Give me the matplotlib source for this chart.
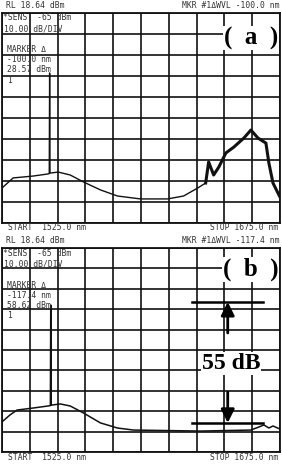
import numpy as np
import matplotlib
matplotlib.use("Agg")
from matplotlib import pyplot as plt

W, H = 282, 465

# spectrum (a): wavelength [nm], level [dBm]
wl_a = [1525.0, 1531.0, 1541.8, 1549.9, 1550.5, 1550.7, 1550.9, 1555.3, 1561.8,
        1568.9, 1578.1, 1587.3, 1599.7, 1614.3, 1623.0, 1630.6, 1634.9]
lv_a = [-64.7, -59.9, -59.0, -58.0, -57.8, -9.9, -57.6, -57.1, -58.5,
        -61.8, -65.6, -68.5, -69.9, -69.9, -68.5, -64.7, -62.3]
# noisy ASE part of (a)
wl_a2 = [1634.9, 1636.5, 1639.2, 1642.0, 1645.8, 1650.1, 1655.5, 1659.3,
         1663.1, 1667.4, 1669.0, 1671.2, 1673.9, 1675.0]
lv_a2 = [-62.3, -52.3, -58.5, -54.7, -48.0, -45.2, -40.9, -37.1,
         -40.9, -43.3, -52.8, -62.3, -67.1, -69.0]

# spectrum (b)
wl_b = [1525.0, 1529.3, 1533.1, 1541.8, 1549.9, 1551.1, 1551.3, 1551.5, 1556.4,
        1561.8, 1568.9, 1578.1, 1587.3, 1595.9, 1632.2, 1659.3, 1663.6,
        1666.3, 1669.0, 1671.2, 1675.0]
lv_b = [-66.6, -63.2, -60.8, -59.8, -58.8, -58.6, -9.3, -58.4, -57.8,
        -58.8, -62.2, -67.1, -69.6, -70.6, -71.1, -70.6, -69.1,
        -68.1, -69.6, -68.6, -70.1]

ref_level = 18.64
start_nm, stop_nm = 1525.0, 1675.0
mkr_a = ["-100.0 nm", "28.57 dBm"]
mkr_b = ["-117.4 nm", "58.62 dBm"]

fig = plt.figure(figsize=(W / 100, H / 100), dpi=100)
ink = "#111111"
txt = "#333333"
mono = "DejaVu Sans Mono"


def px(x, y):
    return x / W, 1 - y / H


def panel(top, bot):
    ax = fig.add_axes([2 / W, 1 - bot / H, 278 / W, (bot - top) / H])
    ax.set_xlim(start_nm, stop_nm)
    ax.set_ylim(ref_level - 100, ref_level)
    ax.set_xticks(np.linspace(start_nm, stop_nm, 11))
    ax.set_yticks(np.linspace(ref_level - 100, ref_level, 11))
    ax.tick_params(length=0, labelbottom=False, labelleft=False)
    ax.grid(color=ink, linewidth=1.2)
    for s in ax.spines.values():
        s.set_linewidth(1.3)
        s.set_color(ink)
    return ax


ax1 = panel(13, 223)
ax1.plot(wl_a, lv_a, color=ink, linewidth=1.0)
ax1.plot(wl_a2, lv_a2, color=ink, linewidth=2.2)
ax1.text(0.895, 0.88, "(  a  )", transform=ax1.transAxes, ha="center", va="center",
         fontsize=18, fontweight="bold", family="Liberation Serif",
         bbox=dict(facecolor="white", edgecolor="none", pad=0.5))

ax2 = panel(248, 452)
ax2.plot(wl_b, lv_b, color=ink, linewidth=1.1)
ax2.text(0.895, 0.895, "(  b  )", transform=ax2.transAxes, ha="center", va="center",
         fontsize=18, fontweight="bold", family="Liberation Serif",
         bbox=dict(facecolor="white", edgecolor="none", pad=0.5))

# 55 dB annotation
hi, lo = -7.8, -67.1
ax2.plot([1627.3, 1665.8], [hi, hi], color="black", linewidth=1.8)
ax2.plot([1627.3, 1665.8], [lo, lo], color="black", linewidth=1.8)
ax2.annotate("", xy=(1646.8, hi), xytext=(1646.8, -23.0),
             arrowprops=dict(arrowstyle="-|>", color="black", lw=2,
                             mutation_scale=20, shrinkA=0, shrinkB=0))
ax2.annotate("", xy=(1646.8, lo), xytext=(1646.8, -52.0),
             arrowprops=dict(arrowstyle="-|>", color="black", lw=2,
                             mutation_scale=20, shrinkA=0, shrinkB=0))
ax2.text(1648.5, -38.0, "55 dB", ha="center", va="center", fontsize=17,
         fontweight="bold", family="Liberation Serif",
         bbox=dict(facecolor="white", edgecolor="none", pad=0.5))

# instrument annotations
for dy, mkr in [(0, mkr_a), (235, mkr_b)]:
    fs = 5.8
    fig.text(*px(6, 5 + dy), "RL %.2f dBm" % ref_level, fontsize=fs, family=mono,
             color=txt, va="center")
    fig.text(*px(279, 5 + dy), "MKR #1\u0394WVL %s" % mkr[0], fontsize=fs,
             family=mono, color=txt, va="center", ha="right")
    fig.text(*px(3, 18 + dy), "*SENS  -65 dBm", fontsize=fs, family=mono,
             color=txt, va="center")
    fig.text(*px(4, 29 + dy), "10.00 dB/DIV", fontsize=fs, family=mono,
             color=txt, va="center")
    fig.text(*px(7, 50 + dy), "MARKER \u0394", fontsize=fs, family=mono,
             color=txt, va="center")
    fig.text(*px(7, 60 + dy), mkr[0], fontsize=fs, family=mono,
             color=txt, va="center")
    fig.text(*px(7, 70 + dy), mkr[1], fontsize=fs, family=mono,
             color=txt, va="center")
    fig.text(*px(7, 80 + dy), "1", fontsize=fs, family=mono,
             color=txt, va="center")
for y in (228, 457):
    fig.text(*px(8, y), "START  %.1f nm" % start_nm, fontsize=5.8, family=mono,
             color=txt, va="center")
    fig.text(*px(278, y), "STOP %.1f nm" % stop_nm, fontsize=5.8, family=mono,
             color=txt, va="center", ha="right")

fig.savefig("out.png", dpi=100)
